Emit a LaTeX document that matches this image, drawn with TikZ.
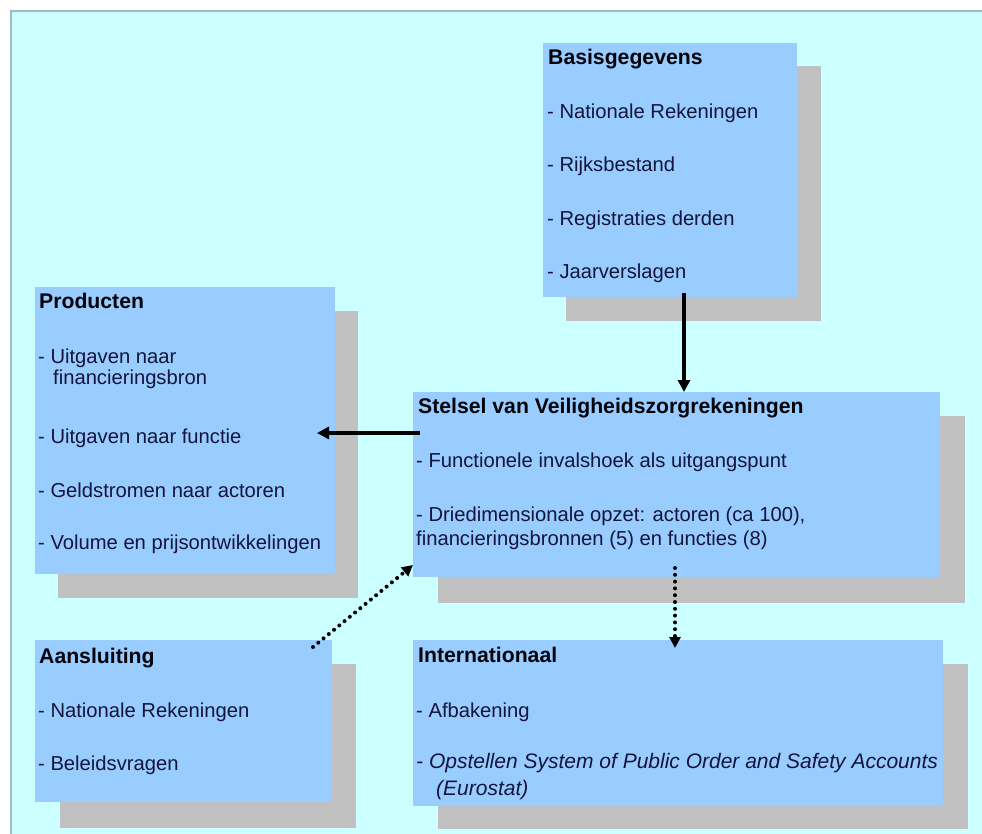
\documentclass[tikz,border=0pt]{standalone}
\usepackage{fontspec}
\setmainfont{Liberation Sans}
\usetikzlibrary{arrows.meta}
\definecolor{bg}{HTML}{CCFFFF}
\definecolor{boxblue}{HTML}{99CCFF}
\definecolor{shade}{HTML}{C0C0C0}
\definecolor{txt}{HTML}{14143C}
\definecolor{edge}{HTML}{A8B8B8}
\tikzset{
  panel/.style={fill=boxblue, draw=none, anchor=north west, inner sep=0pt, outer sep=0pt},
  shadowbox/.style={fill=shade, draw=none},
  ttl/.style={anchor=base west, inner sep=0pt, font=\fontsize{21.2}{24}\selectfont\bfseries, text=black!85!txt},
  itm/.style={anchor=base west, inner sep=0pt, font=\fontsize{20.2}{23}\selectfont, text=txt},
  itmit/.style={itm, font=\fontsize{21}{24}\selectfont\itshape},
  solidarrow/.style={line width=3.4pt, -{Triangle[length=12pt,width=12pt]}},
  dotarrow/.style={line width=4pt, dash pattern=on 0pt off 6.8pt, line cap=round, -{Triangle[length=11pt,width=11pt]}}
}
\begin{document}
\begin{tikzpicture}[x=1pt,y=-1pt]
\useasboundingbox (0,0) rectangle (982,834);
\fill[white] (0,0) rectangle (982,834);
\fill[bg] (10,10) rectangle (982,834);
\draw[edge, line width=2pt] (11,834) -- (11,11) -- (982,11);

% shadows
\fill[shadowbox] (566,66) rectangle (821,321);
\fill[shadowbox] (58,311) rectangle (358,598);
\fill[shadowbox] (438,416) rectangle (965,603);
\fill[shadowbox] (60,664) rectangle (356,828);
\fill[shadowbox] (438,664) rectangle (968,829);

% panels
\node[panel, minimum width=254pt, minimum height=254pt] (basis) at (543,43) {};
\node[panel, minimum width=300pt, minimum height=287pt] (prod) at (35,287) {};
\node[panel, minimum width=527pt, minimum height=185pt] (stelsel) at (413,392) {};
\node[panel, minimum width=297pt, minimum height=162pt] (aans) at (35,640) {};
\node[panel, minimum width=530pt, minimum height=166pt] (intl) at (413,640) {};

% Basisgegevens
\node[ttl] (bt) at (548,65) {Basisgegevens};
\node[itm] (b1) at (547,119) {- Nationale Rekeningen};
\node[itm] (b2) at (547,172) {- Rijksbestand};
\node[itm] (b3) at (547,226) {- Registraties derden};
\node[itm] (b4) at (547,279) {- Jaarverslagen};

% Producten
\node[ttl] (pt) at (39,308) {Producten};
\node[itm] (p1) at (38,363) {- Uitgaven naar};
\node[itm] (p1b) at (53,384) {financieringsbron};
\node[itm] (p2) at (38,443) {- Uitgaven naar functie};
\node[itm] (p3) at (38,497) {- Geldstromen naar actoren};
\node[itm] (p4) at (38,549) {- Volume en prijsontwikkelingen};

% Stelsel
\node[ttl] (st) at (418,413) {Stelsel van Veiligheidszorgrekeningen};
\node[itm] (s1) at (416,467) {- Functionele invalshoek als uitgangspunt};
\node[itm] (s2) at (416,521) {- Driedimensionale opzet: actoren (ca 100),};
\node[itm] (s2b) at (416,545) {financieringsbronnen (5) en functies (8)};

% Aansluiting
\node[ttl] (at) at (39,663) {Aansluiting};
\node[itm] (a1) at (38,717) {- Nationale Rekeningen};
\node[itm] (a2) at (38,770) {- Beleidsvragen};

% Internationaal
\node[ttl] (it) at (418,662) {Internationaal};
\node[itm] (i1) at (416,717) {- Afbakening};
\node[itmit] (i2) at (416,768) {- Opstellen System of Public Order and Safety Accounts};
\node[itmit] (i2b) at (436,795) {(Eurostat)};

% connectors
\coordinate (c1) at (684,293);
\coordinate (c2) at (684,392);
\draw[solidarrow] (c1) -- (c2);
\coordinate (c3) at (420,433);
\coordinate (c4) at (317,433);
\draw[solidarrow] (c3) -- (c4);
\coordinate (c5) at (313,647);
\coordinate (c6) at (413,565);
\draw[dotarrow] (c5) -- (c6);
\coordinate (c7) at (675,568);
\coordinate (c8) at (675,648);
\draw[dotarrow] (c7) -- (c8);
\end{tikzpicture}
\end{document}
